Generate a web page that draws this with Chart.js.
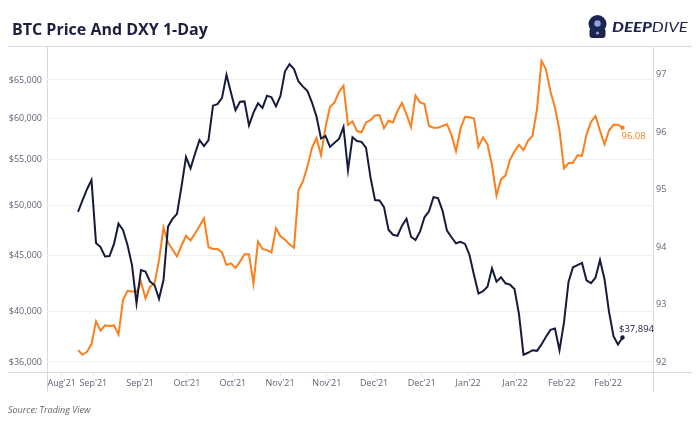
<!DOCTYPE html>
<html>
<head>
<meta charset="utf-8">
<title>BTC Price And DXY 1-Day</title>
<script src="https://cdn.jsdelivr.net/npm/chart.js@4.4.1/dist/chart.umd.min.js"></script>
<style>
    body { margin: 0; background: #fff; }
    #wrap { position: relative; width: 700px; height: 423px; font-family: "Open Sans", sans-serif; }
    #title { position: absolute; left: 12px; top: 18px; line-height: 22px; font-size: 16px; font-weight: 700; color: #1b2040; }
    #logo { position: absolute; left: 587px; top: 14px; height: 25px; }
    #logo svg { position: absolute; left: 0; top: 0; }
    #logo .word { position: absolute; left: 25px; top: 3px; white-space: nowrap; font-family: Lato, sans-serif; font-style: italic; font-size: 14px; line-height: 20px; color: #1c2452; transform: scaleX(1.2); transform-origin: left; }
    #logo .deep { font-weight: 900; }
    #logo .dive { font-weight: 400; }
    #source { position: absolute; left: 8px; top: 404px; font-size: 9px; line-height: 12px; font-style: italic; color: #666; }
</style>
</head>
<body>
<div id="wrap">
    <canvas id="chartBtcDxy" width="700" height="423"></canvas>
    <div id="title">BTC Price And DXY 1-Day</div>
    <div id="logo">
        <svg width="21" height="25" viewBox="0 0 21 25">
            <circle cx="10.5" cy="10" r="9" fill="#1c2452"/>
            <rect x="2.5" y="14" width="16" height="10" rx="3" fill="#1c2452"/>
            <circle cx="10.5" cy="9.5" r="3.2" fill="#8fa3d6"/>
            <circle cx="10.5" cy="19" r="1.6" fill="#8fa3d6"/>
        </svg>
        <div class="word"><span class="deep">DEEP</span><span class="dive">DIVE</span></div>
    </div>
    <div id="source">Source: Trading View</div>
</div>
<script>
// ============================
// DATA (one value per trading day)
// ============================
const btcPrice = [
    49300, 50500, 51700, 52700, 46200, 45800, 44900, 44950, 46100, 48100,
    47470, 46000, 44100, 40700, 43640, 43500, 42600, 42300, 41100, 42740,
    47800, 48600, 49100, 52000, 55300, 54000, 55700, 57300, 56600, 57300,
    61600, 61800, 62600, 65700, 63300, 61000, 62100, 62150, 59100, 60700,
    61900, 61300, 62900, 62700, 61500, 62900, 66200, 67200, 66500, 64800,
    64100, 63500, 62000, 60200, 57500, 57800, 56500, 57000, 57450, 58900,
    53800, 57650, 57200, 57100, 56400, 53000, 50540, 50500, 49800, 47500,
    47000, 46900, 47900, 48600, 46800, 46480, 47300, 48750, 49360, 50850,
    50750, 49440, 47400, 46750, 46160, 46300, 46100, 45050, 43200, 41550,
    41750, 42150, 43800, 42600, 43000, 42450, 42330, 41950, 39800, 36550,
    36700, 36900, 36850, 37350, 37950, 38500, 38620, 36900, 39120, 42560,
    43900, 44100, 44300, 42720, 42470, 42950, 44570, 42830, 40000, 38000,
    37340, 37894
];

const dxyIndex = [
    92.21, 92.13, 92.18, 92.32, 92.71, 92.55, 92.64, 92.63, 92.64, 92.48,
    93.08, 93.24, 93.23, 93.22, 93.40, 93.11, 93.31, 93.37, 93.77, 94.34,
    94.08, 93.96, 93.84, 94.03, 94.20, 94.12, 94.24, 94.37, 94.50, 94.00,
    93.97, 93.97, 93.91, 93.69, 93.72, 93.64, 93.75, 93.88, 93.88, 93.37,
    94.10, 93.97, 93.95, 93.91, 94.33, 94.19, 94.13, 94.05, 93.99, 94.99,
    95.15, 95.41, 95.73, 95.90, 95.60, 96.09, 96.44, 96.52, 96.70, 96.81,
    96.13, 96.19, 96.02, 96.00, 96.17, 96.21, 96.29, 96.30, 96.07, 96.20,
    96.17, 96.37, 96.51, 96.31, 96.09, 96.64, 96.52, 96.49, 96.11, 96.08,
    96.08, 96.11, 96.14, 95.95, 95.67, 96.06, 96.27, 96.26, 96.24, 95.75,
    95.91, 95.79, 95.43, 94.90, 95.18, 95.25, 95.52, 95.67, 95.78, 95.69,
    95.85, 95.94, 96.40, 97.24, 97.09, 96.71, 96.43, 96.03, 95.37, 95.46,
    95.47, 95.60, 95.59, 95.96, 96.18, 96.28, 96.03, 95.79, 96.03, 96.13,
    96.13, 96.08
];

const btcTicks = [36000, 40000, 45000, 50000, 55000, 60000, 65000];
const dxyTicks = [92, 93, 94, 95, 96, 97];
const xTickLabels = ["Aug'21", "Sep'21", "Sep'21", "Oct'21", "Oct'21", "Nov'21", "Nov'21",
                     "Dec'21", "Dec'21", "Jan'22", "Jan'22", "Feb'22", "Feb'22"];
const xTickAt = [-3.6, 3.4, 13.8, 24.2, 34.4, 44.9, 55.3, 65.8, 76.4, 86.7, 97.1, 107.5, 117.8];

const NAVY = "#161b3d";
const ORANGE = "#fb7f1c";
const TICK_COLOR = "#5f6478";
const last = btcPrice.length - 1;

// ============================
// FRAME + END LABELS
// ============================
const framePlugin = {
    id: "frame",
    beforeDraw(chart) {
        const { ctx, chartArea: a } = chart;
        ctx.save();
        ctx.strokeStyle = "#dadada";
        ctx.lineWidth = 1;
        ctx.beginPath();
        ctx.moveTo(8, a.top + 0.5); ctx.lineTo(692, a.top + 0.5);
        ctx.moveTo(8, a.bottom + 0.5); ctx.lineTo(692, a.bottom + 0.5);
        ctx.moveTo(a.left + 0.5, a.top); ctx.lineTo(a.left + 0.5, a.bottom + 20);
        ctx.moveTo(a.right + 0.5, a.top); ctx.lineTo(a.right + 0.5, a.bottom + 20);
        ctx.stroke();
        ctx.restore();
    },
    afterDatasetsDraw(chart) {
        const { ctx } = chart;
        const pBtc = chart.getDatasetMeta(0).data[last];
        const pDxy = chart.getDatasetMeta(1).data[last];
        ctx.save();
        ctx.font = "9.5px 'Open Sans'";
        ctx.textAlign = "left";
        ctx.textBaseline = "middle";
        ctx.fillStyle = NAVY;
        ctx.fillText("$" + btcPrice[last].toLocaleString("en-US"), pBtc.x - 3.5, pBtc.y - 8);
        ctx.fillStyle = ORANGE;
        ctx.fillText(dxyIndex[last].toFixed(2), pDxy.x - 1, pDxy.y + 9);
        ctx.restore();
    }
};

function endDot(ctx) {
    return ctx.dataIndex === last ? 2.2 : 0;
}

const ctx = document.getElementById("chartBtcDxy");
new Chart(ctx, {
    type: "line",
    data: {
        labels: btcPrice.map((v, i) => i),
        datasets: [{
            label: "BTC",
            data: btcPrice,
            yAxisID: "yBtc",
            borderColor: NAVY,
            backgroundColor: NAVY,
            borderWidth: 2,
            pointRadius: endDot,
            pointBorderWidth: 0,
            pointHoverRadius: 0,
            tension: 0
        }, {
            label: "DXY",
            data: dxyIndex,
            yAxisID: "yDxy",
            borderColor: ORANGE,
            backgroundColor: ORANGE,
            borderWidth: 2,
            pointRadius: endDot,
            pointBorderWidth: 0,
            pointHoverRadius: 0,
            tension: 0
        }]
    },
    options: {
        responsive: false,
        animation: false,
        layout: { padding: { top: 46, left: 0, right: 0, bottom: 0 } },
        plugins: {
            legend: { display: false },
            tooltip: { enabled: false }
        },
        scales: {
            x: {
                type: "linear",
                min: -6.89,
                max: 127.78,
                afterBuildTicks: s => { s.ticks = xTickAt.map(v => ({ value: v })); },
                afterFit: s => { s.height = 51; },
                ticks: {
                    autoSkip: false,
                    maxRotation: 0,
                    padding: 2,
                    color: TICK_COLOR,
                    font: { family: "Open Sans", size: 9 },
                    callback: (v, i) => xTickLabels[i]
                },
                grid: { drawOnChartArea: false, tickLength: 4, color: "#e6e6e6" },
                border: { display: false }
            },
            yBtc: {
                type: "logarithmic",
                position: "left",
                min: 35250,
                max: 69800,
                afterBuildTicks: s => { s.ticks = btcTicks.map(v => ({ value: v })); },
                afterFit: s => { s.width = 47; },
                ticks: {
                    padding: 5,
                    color: TICK_COLOR,
                    font: { family: "Open Sans", size: 9 },
                    callback: v => "$" + Number(v).toLocaleString("en-US")
                },
                grid: { color: "#f0f0f0", drawTicks: false },
                border: { display: false }
            },
            yDxy: {
                type: "linear",
                position: "right",
                min: 91.83,
                max: 97.5,
                afterBuildTicks: s => { s.ticks = dxyTicks.map(v => ({ value: v })); },
                afterFit: s => { s.width = 47; },
                ticks: {
                    padding: 3,
                    color: TICK_COLOR,
                    font: { family: "Open Sans", size: 9 },
                    callback: v => String(v)
                },
                grid: { display: false, drawTicks: false },
                border: { display: false }
            }
        }
    },
    plugins: [framePlugin]
});
</script>
</body>
</html>
